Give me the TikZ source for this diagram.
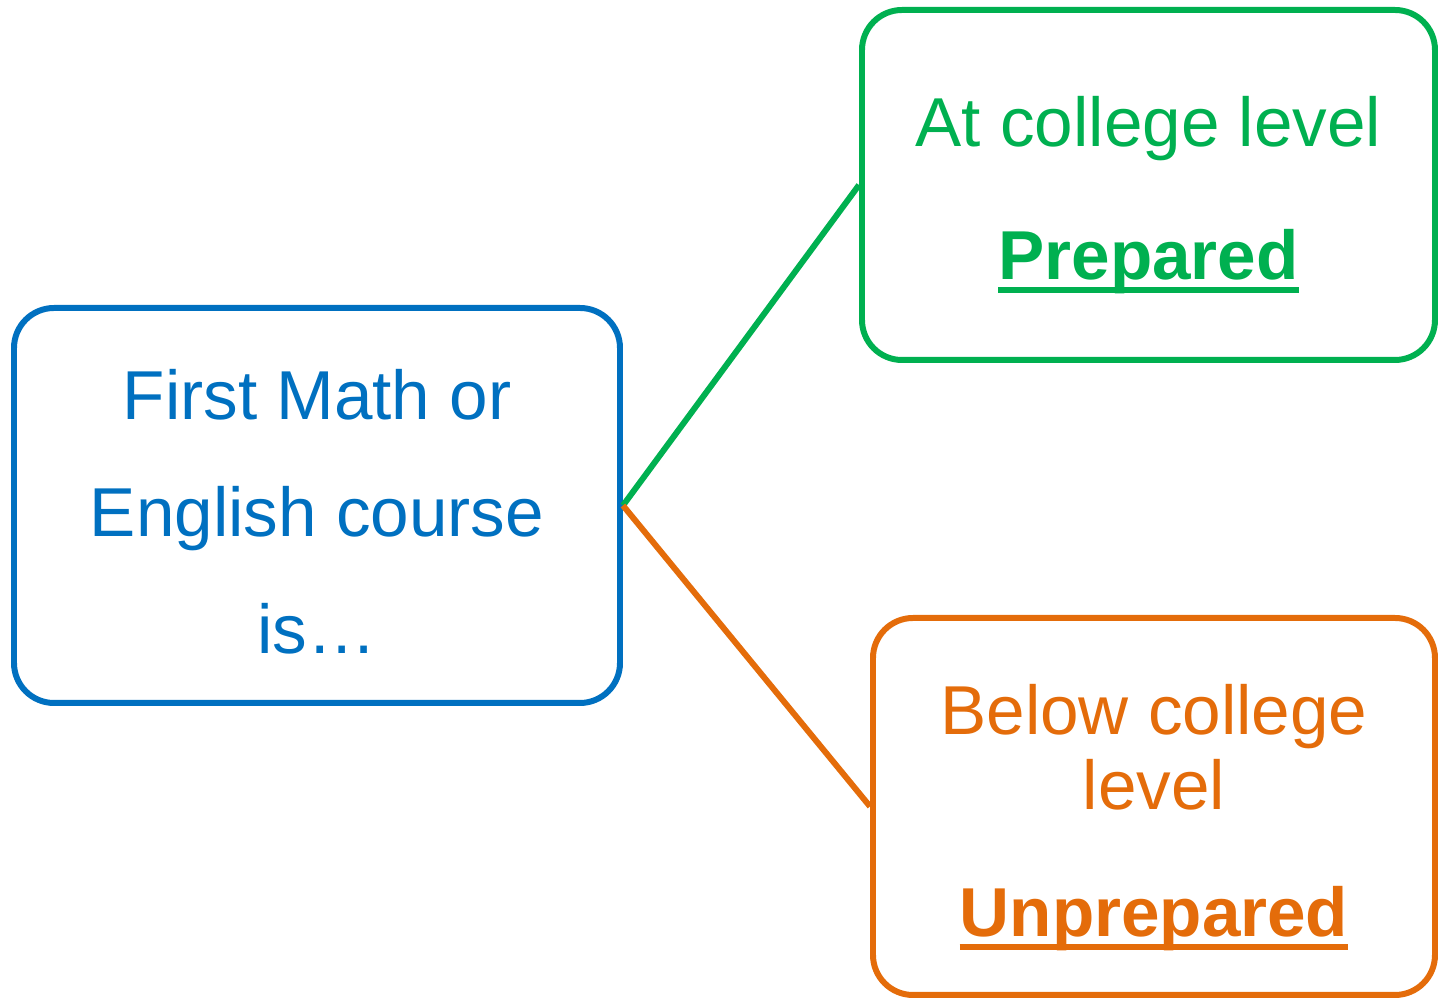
\documentclass[tikz,border=0pt]{standalone}
\usepackage{fontspec}
\setmainfont{Liberation Sans}
\definecolor{mathblue}{HTML}{0070C0}
\definecolor{prepgreen}{HTML}{00B050}
\definecolor{unprepor}{HTML}{E46C0A}
\newcommand\thickul[1]{\setbox0\hbox{#1}\leavevmode\rlap{\rule[-4pt]{\wd0}{1.7pt}}\box0}
\tikzset{
every picture/.style={
line width=1.7pt
}}

\begin{document}
\begin{tikzpicture}[
box/.style = {rectangle, draw, rounded corners=0.4cm, inner sep=0pt},
boxtext/.style = {align=center, inner sep=0pt, font=\fontsize{19.7}{24}\selectfont}]

\useasboundingbox (0,0) rectangle (14.39,9.99);

\node [box, draw=mathblue, minimum width=6.06cm, minimum height=3.95cm]
  (course) at (3.17,4.935) {};
\node [box, draw=prepgreen, minimum width=5.73cm, minimum height=3.5cm]
  (prep) at (11.485,8.14) {};
\node [box, draw=unprepor, minimum width=5.62cm, minimum height=3.77cm]
  (unprep) at (11.54,1.925) {};

\node [boxtext, text=mathblue, yshift=-0.06cm] (courseText) at (course.center)
  {First Math or\\[9.3pt] English course\\[9.3pt] is\ldots};
\node [boxtext, text=prepgreen, yshift=-0.1cm] (prepText) at (prep.center)
  {At college level\\[13.8pt] \textbf{\thickul{Prepared}}};
\node [boxtext, text=unprepor, yshift=-0.11cm] (unprepText) at (unprep.center)
  {Below college\\[-2.7pt] level\\[12.1pt] \textbf{\thickul{Unprepared}}};

% links from the course box
\draw [prepgreen] (course.east) -- (prep.west);
\draw [unprepor] (course.east) -- (unprep.west);
\end{tikzpicture}
\end{document}
